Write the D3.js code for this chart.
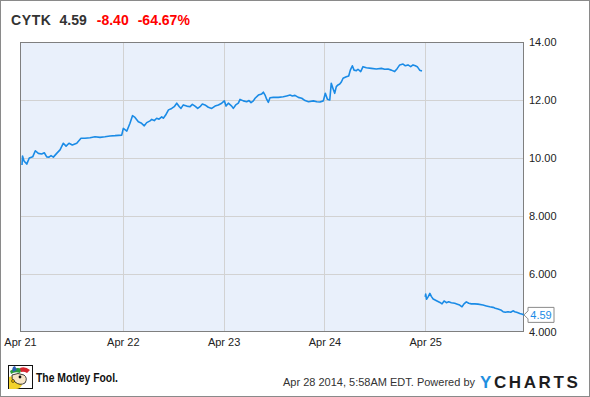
<!DOCTYPE html>
<html>
<head>
<meta charset="utf-8">
<script src="https://cdn.jsdelivr.net/npm/d3@7"></script>
<style>
  html, body { margin: 0; padding: 0; background: #fff; }
  svg { display: block; font-family: "Liberation Sans", Arial, sans-serif; }
</style>
</head>
<body>
<svg id="chart" width="590" height="397"></svg>
<script>
// ---- data ----
const ticker = "CYTK";
const lastPrice = "4.59";
const change = "-8.40";
const changePct = "-64.67%";
const dayLabels = ["Apr 21", "Apr 22", "Apr 23", "Apr 24", "Apr 25"];
const dayIndex = [0, 1, 2, 3, 4];
const yTicks = [14, 12, 10, 8, 6, 4];
const yTickLabels = ["14.00", "12.00", "10.00", "8.000", "6.000", "4.000"];

// Apr 21 - Apr 24 session (time in trading days from Apr 21 open)
const preTimes = [
  0.000, 0.005, 0.020, 0.047, 0.072, 0.106, 0.132, 0.162, 0.195, 0.221, 0.245, 0.268, 0.288, 0.311, 0.344,
  0.377, 0.410, 0.437, 0.466, 0.499, 0.543, 0.585, 0.625, 0.675, 0.724, 0.774, 0.823, 0.873, 0.923, 0.989,
  1.005, 1.040, 1.071, 1.096, 1.121, 1.154, 1.181, 1.213, 1.237, 1.270, 1.287, 1.312, 1.336, 1.359, 1.386,
  1.402, 1.425, 1.453, 1.485, 1.510, 1.535, 1.561, 1.577, 1.600, 1.634, 1.667, 1.690, 1.716, 1.743, 1.766,
  1.789, 1.815, 1.848, 1.882, 1.915, 1.948, 1.981,
  2.007, 2.024, 2.047, 2.080, 2.096, 2.120, 2.146, 2.163, 2.196, 2.229, 2.252, 2.272, 2.295, 2.312, 2.345,
  2.378, 2.394, 2.411, 2.428, 2.444, 2.460, 2.493, 2.543, 2.592, 2.626, 2.659, 2.682, 2.708, 2.741, 2.775,
  2.808, 2.842, 2.890, 2.924, 2.956, 2.989,
  3.009, 3.029, 3.053, 3.068, 3.085, 3.102, 3.118, 3.135, 3.152, 3.168, 3.185, 3.217, 3.241, 3.257, 3.277,
  3.294, 3.317, 3.333, 3.360, 3.383, 3.416, 3.465, 3.515, 3.565, 3.598, 3.631, 3.664, 3.697, 3.723, 3.747,
  3.780, 3.803, 3.829, 3.856, 3.879, 3.902, 3.921, 3.945, 3.968
];
const prePrices = [
  9.76, 10.07, 9.90, 9.79, 10.00, 10.04, 10.25, 10.16, 10.14, 10.18, 10.04, 10.03, 10.08, 10.03, 10.16,
  10.28, 10.51, 10.41, 10.51, 10.45, 10.51, 10.68, 10.68, 10.70, 10.73, 10.71, 10.73, 10.76, 10.77, 10.79,
  11.02, 10.93, 11.20, 11.46, 11.40, 11.25, 11.21, 11.11, 11.22, 11.28, 11.33, 11.29, 11.37, 11.34, 11.42,
  11.37, 11.48, 11.66, 11.71, 11.77, 11.89, 11.77, 11.71, 11.83, 11.79, 11.77, 11.85, 11.79, 11.71, 11.77,
  11.86, 11.83, 11.75, 11.71, 11.79, 11.83, 11.89,
  11.97, 11.79, 11.89, 11.79, 11.71, 11.83, 11.89, 12.02, 11.97, 11.94, 11.98, 11.91, 11.97, 12.06, 12.17,
  12.21, 12.27, 12.17, 12.02, 11.92, 12.08, 12.09, 12.09, 12.11, 12.14, 12.17, 12.14, 12.16, 12.09, 12.06,
  11.98, 11.94, 11.97, 11.94, 11.93, 11.97,
  12.23, 12.03, 12.00, 12.58, 12.40, 12.23, 12.46, 12.52, 12.55, 12.62, 12.75, 12.80, 12.83, 13.03, 13.18,
  13.03, 13.01, 13.06, 12.98, 13.15, 13.11, 13.09, 13.07, 13.09, 13.06, 13.07, 13.03, 12.98, 13.09, 13.21,
  13.24, 13.18, 13.21, 13.15, 13.21, 13.18, 13.15, 13.03, 13.00
];

// Apr 25 session (after the drop)
const postTimes = [
  4.000, 4.005, 4.013, 4.030, 4.046, 4.062, 4.079, 4.112, 4.146, 4.167, 4.187, 4.210, 4.233, 4.259, 4.293,
  4.319, 4.342, 4.365, 4.385, 4.408, 4.432, 4.457, 4.491, 4.524, 4.573, 4.606, 4.640, 4.673, 4.695, 4.722,
  4.749, 4.772, 4.795, 4.821, 4.848, 4.871, 4.888, 4.914, 4.938, 4.965, 4.980
];
const postPrices = [
  5.21, 5.31, 5.13, 5.22, 5.33, 5.22, 5.14, 5.08, 5.02, 4.97, 5.07, 5.01, 5.04, 5.01, 4.99,
  4.96, 4.93, 4.87, 4.97, 5.04, 4.99, 4.97, 4.97, 4.96, 4.93, 4.90, 4.87, 4.85, 4.82, 4.79,
  4.76, 4.70, 4.68, 4.70, 4.68, 4.73, 4.70, 4.67, 4.64, 4.61, 4.59
];

// ---- layout ----
const W = 590, H = 397;
const plot = { left: 20, right: 524, top: 42, bottom: 332 };
const svg = d3.select("#chart");

const x = d3.scaleLinear().domain([-0.02, 4.98]).range([plot.left, plot.right]);
const y = d3.scaleLinear().domain([4, 14]).range([plot.bottom, plot.top]);

// outer frame
svg.append("rect").attr("x", 0.5).attr("y", 0.5).attr("width", W - 1).attr("height", H - 1)
  .attr("fill", "#fff").attr("stroke", "#8a8a8a").attr("stroke-width", 1);

// plot background
svg.append("rect").attr("x", plot.left).attr("y", plot.top)
  .attr("width", plot.right - plot.left).attr("height", plot.bottom - plot.top)
  .attr("fill", "#e9f0fb");

// grid lines
const grid = svg.append("g");
grid.selectAll("line.h").data(yTicks.filter(d => d > 4 && d < 14)).join("line")
  .attr("x1", plot.left).attr("x2", plot.right)
  .attr("y1", d => Math.round(y(d)) + 0.5).attr("y2", d => Math.round(y(d)) + 0.5)
  .attr("stroke", "#d2d2d2").attr("stroke-width", 1);
grid.selectAll("line.v").data(dayIndex.filter(d => d > 0)).join("line")
  .attr("y1", plot.top).attr("y2", plot.bottom)
  .attr("x1", d => Math.round(x(d)) + 0.5).attr("x2", d => Math.round(x(d)) + 0.5)
  .attr("stroke", "#d2d2d2").attr("stroke-width", 1);

// plot border
svg.append("rect").attr("x", plot.left + 0.5).attr("y", plot.top + 0.5)
  .attr("width", plot.right - plot.left - 1).attr("height", plot.bottom - plot.top - 1)
  .attr("fill", "none").attr("stroke", "#7f7f7f").attr("stroke-width", 1);

// line
const line = d3.line().x(d => x(d[0])).y(d => y(d[1]));
const seriesList = [d3.zip(preTimes, prePrices), d3.zip(postTimes, postPrices)];
svg.append("g").selectAll("path").data(seriesList).join("path")
  .attr("d", line).attr("fill", "none")
  .attr("stroke", "#1a8be6").attr("stroke-width", 1.6).attr("stroke-linejoin", "round");

// y axis labels (right)
const yAxis = d3.axisRight(y).tickValues(yTicks)
  .tickFormat((d, i) => yTickLabels[i]).tickSize(0).tickPadding(5);
const yg = svg.append("g").attr("transform", `translate(${plot.right},0)`).call(yAxis);
yg.select(".domain").remove();
yg.selectAll("text").attr("font-size", 11).attr("fill", "#222")
  .attr("font-family", "'Liberation Sans', Arial, sans-serif");

// x axis labels
const xAxis = d3.axisBottom(x).tickValues(dayIndex)
  .tickFormat((d, i) => dayLabels[i]).tickSize(0).tickPadding(6);
const xg = svg.append("g").attr("transform", `translate(0,${plot.bottom})`).call(xAxis);
xg.select(".domain").remove();
xg.selectAll("text").attr("font-size", 11).attr("fill", "#222")
  .attr("font-family", "'Liberation Sans', Arial, sans-serif");
xg.selectAll(".tick").filter(d => d === 0).select("text").attr("dx", -2);

// last value label
const lastY = y(postPrices[postPrices.length - 1]);
const lbl = svg.append("g").attr("transform", `translate(${plot.right},${lastY})`);
lbl.append("path")
  .attr("d", "M0,0 L4,-4 L4,-7.5 L30,-7.5 L30,7.5 L4,7.5 L4,4 Z")
  .attr("fill", "#fff").attr("stroke", "#8a8a8a").attr("stroke-width", 1);
lbl.append("text").attr("x", 17).attr("y", 4).attr("text-anchor", "middle")
  .attr("font-size", 11).attr("fill", "#1a8be6").text(lastPrice);

// title
const title = svg.append("text").attr("x", 11).attr("y", 25)
  .attr("font-size", 14).attr("font-weight", "bold");
title.append("tspan").attr("fill", "#333").attr("letter-spacing", 0.6).text(ticker);
title.append("tspan").attr("fill", "#333").attr("dx", 8).text(lastPrice);
title.append("tspan").attr("fill", "#ff0000").attr("dx", 10).text(change);
title.append("tspan").attr("fill", "#ff0000").attr("dx", 9).text(changePct);

// Motley Fool logo (simplified jester icon)
const logo = svg.append("g").attr("transform", "translate(8,365)");
logo.append("rect").attr("x", 0.5).attr("y", 0.5).attr("width", 24).attr("height", 23)
  .attr("fill", "#fff").attr("stroke", "#111").attr("stroke-width", 1);
logo.append("path").attr("d", "M1,24 L1,12 Q6,10 10,14 L14,20 Q12,24 8,24 Z").attr("fill", "#f2d22c");
logo.append("path").attr("d", "M2,6 Q8,1 14,4 L12,8 Q7,6 3,9 Z").attr("fill", "#2a9d3a");
logo.append("path").attr("d", "M12,3 Q17,1 22,5 L19,8 Q16,6 13,7 Z").attr("fill", "#d7262e");
logo.append("path").attr("d", "M5,7 Q3,2 7,1 L9,5 Z").attr("fill", "#2b5fb4");
logo.append("path").attr("d", "M4,10 Q10,7 16,10 Q20,13 17,18 Q12,21 7,17 Q3,14 4,10 Z")
  .attr("fill", "#f7e6c6").attr("stroke", "#111").attr("stroke-width", 0.8);
logo.append("circle").attr("cx", 12).attr("cy", 12).attr("r", 1.4).attr("fill", "#111");
logo.append("circle").attr("cx", 5).attr("cy", 16).attr("r", 1.5).attr("fill", "#e8b400").attr("stroke", "#111").attr("stroke-width", 0.5);
svg.append("text").attr("x", 36).attr("y", 382).attr("font-size", 12.5).attr("font-weight", "bold")
  .attr("fill", "#111").attr("textLength", 82).attr("lengthAdjust", "spacingAndGlyphs")
  .text("The Motley Fool.");

// footer
svg.append("text").attr("x", 475).attr("y", 386).attr("text-anchor", "end")
  .attr("font-size", 11).attr("fill", "#333").text("Apr 28 2014, 5:58AM EDT.  Powered by");
const yc = svg.append("text").attr("x", 480).attr("y", 388)
  .attr("font-size", 17).attr("font-weight", "bold").attr("letter-spacing", 2.6);
yc.append("tspan").attr("fill", "#1f8fe0").text("Y");
yc.append("tspan").attr("fill", "#1d1d1f").text("CHARTS");
</script>
</body>
</html>
